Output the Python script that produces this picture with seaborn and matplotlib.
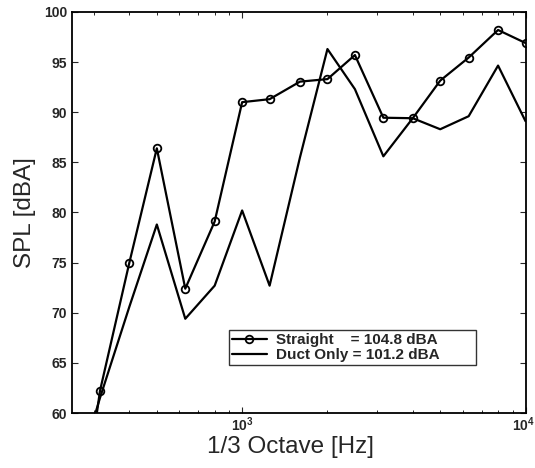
import numpy as np
import pandas as pd
import matplotlib
matplotlib.use("Agg")
import matplotlib.pyplot as plt
import matplotlib.transforms as mtransforms
import seaborn as sns

freqs = [250, 315, 400, 500, 630, 800, 1000, 1250, 1600, 2000, 2500, 3150, 4000, 5000, 6300, 8000, 10000]
straight = [42.0, 62.2, 75.0, 86.4, 72.4, 79.1, 91.0, 91.3, 93.05, 93.3, 95.7, 89.45, 89.4, 93.15, 95.45, 98.2, 96.9]
duct_only = [52.0, 61.5, 70.6, 78.8, 69.4, 72.7, 80.2, 72.7, 85.5, 96.3, 92.3, 85.6, 89.4, 88.3, 89.6, 94.65, 89.1]
labels = ["Straight    = 104.8 dBA", "Duct Only = 101.2 dBA"]
yticks = [60, 65, 70, 75, 80, 85, 90, 95, 100]

sns.set_style("white")
plt.rcParams['font.family'] = ['Liberation Sans', 'DejaVu Sans']
plt.rcParams['mathtext.default'] = 'regular'

fig = plt.figure(figsize=(5.35, 4.68), dpi=100)
ax = fig.add_axes([0.1346, 0.1175, 0.8477, 0.857])

df = pd.DataFrame({"f": freqs, "s": straight, "d": duct_only})
sns.lineplot(data=df, x="f", y="s", ax=ax, color="black", lw=1.6, marker="o",
             markersize=5.5, markerfacecolor="none", markeredgecolor="black",
             markeredgewidth=1.3, label=labels[0])
sns.lineplot(data=df, x="f", y="d", ax=ax, color="black", lw=1.6, label=labels[1])

ax.set_xscale("log")
ax.set_xlim(251, 10000)
ax.set_ylim(60, 100)
ax.set_yticks(yticks)
ax.tick_params(which="both", direction="in", top=True, right=True, bottom=True, left=True)
ax.tick_params(which="major", length=4, width=0.8, labelsize=10)
ax.tick_params(which="minor", length=2.5, width=0.7)
ax.tick_params(axis="x", which="major", pad=1.5)
for sp in ax.spines.values():
    sp.set_color("black")
    sp.set_linewidth(1.3)

ax.set_xlabel("1/3 Octave [Hz]", fontsize=17.5)
ax.xaxis.set_label_coords(0.4807, -0.058)
ax.set_ylabel("SPL [dBA]", fontsize=17.5, labelpad=6)

leg = ax.legend(loc="lower left", bbox_to_anchor=(0.3454, 0.1197, 0.545, 0.09), mode="expand",
                frameon=True, fancybox=False, edgecolor="black", fontsize=11, handlelength=2.3,
                borderpad=0.2, labelspacing=0.05, handletextpad=0.6, borderaxespad=0)
leg.get_frame().set_linewidth(1.0)
for t in leg.get_texts():
    t.set_fontweight("bold")

fig.canvas.draw()
for lab in ax.get_yticklabels() + ax.get_xticklabels():
    lab.set_fontweight("bold")
xl = ax.get_xticklabels()
for lab in xl:
    if "4" in lab.get_text():
        lab.set_horizontalalignment("right")
        lab.set_transform(lab.get_transform() + mtransforms.ScaledTranslation(9/100, 0, fig.dpi_scale_trans))

fig.savefig("out.png", dpi=100)
